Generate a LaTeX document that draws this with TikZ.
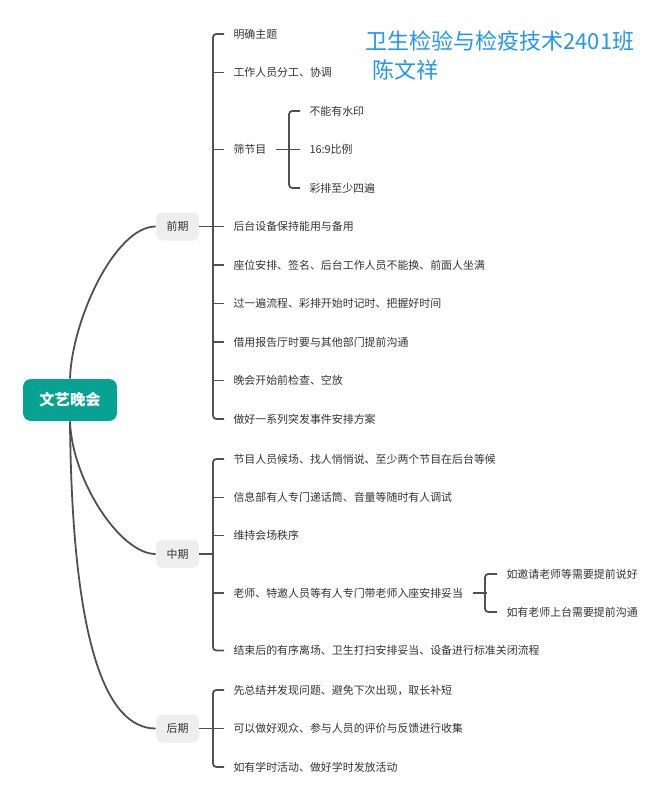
\documentclass[tikz,border=0pt]{standalone}
\usepackage{fontspec}
\newfontfamily\cjk{Noto Sans CJK SC}
\definecolor{linegray}{RGB}{80,80,80}
\definecolor{textgray}{RGB}{51,51,51}
\definecolor{boxgray}{RGB}{238,238,238}
\definecolor{rootteal}{RGB}{8,162,146}
\definecolor{titleblue}{RGB}{33,150,243}
\tikzset{every picture/.style={line width=0.75pt}}
\tikzset{
  branch/.style={draw=linegray, line width=1.35pt},
  topic/.style={anchor=west, inner xsep=6.75pt, inner ysep=2pt, text=textgray, font=\cjk\fontsize{8.2}{10}\selectfont},
  phase/.style={fill=boxgray, rounded corners=4.5pt, minimum width=32pt, minimum height=21pt, inner sep=0pt, text=textgray, font=\cjk\fontsize{8.2}{10}\selectfont},
  rootbox/.style={fill=rootteal, rounded corners=6pt, minimum width=70.5pt, minimum height=31.5pt, inner sep=0pt, text=white, font=\cjk\bfseries\fontsize{11.5}{13}\selectfont},
  titletext/.style={anchor=west, inner sep=0pt, text=titleblue, font=\cjk\fontsize{16.5}{19}\selectfont},
}
\begin{document}
\begin{tikzpicture}[x=0.75pt,y=0.75pt,yscale=-1,xscale=1]
	\useasboundingbox (0,0) rectangle (669,800);

	% Text Node
	\node [rootbox] (root) at (70,400) {文艺晚会};
	% Text Node
	\node [phase] (pre) at (177.5,226.5) {前期};
	% Text Node
	\node [phase] (mid) at (177.5,554) {中期};
	% Text Node
	\node [phase] (post) at (177.5,728.5) {后期};

	% Text Node
	\node [titletext] (title1) at (365,41) {卫生检验与检疫技术2401班};
	% Text Node
	\node [titletext] (title2) at (372,70) {陈文祥};

	% Text Node
	\node [topic] (pre1) at (224,34) {明确主题};
	\node [topic] (pre2) at (224,72.5) {工作人员分工、协调};
	\node [topic] (pre3) at (224,149.5) {筛节目};
	\node [topic] (pre4) at (224,226.5) {后台设备保持能用与备用};
	\node [topic] (pre5) at (224,265) {座位安排、签名、后台工作人员不能换、前面人坐满};
	\node [topic] (pre6) at (224,303.5) {过一遍流程、彩排开始时记时、把握好时间};
	\node [topic] (pre7) at (224,342) {借用报告厅时要与其他部门提前沟通};
	\node [topic] (pre8) at (224,380.5) {晚会开始前检查、空放};
	\node [topic] (pre9) at (224,419) {做好一系列突发事件安排方案};
	% Text Node
	\node [topic] (sift1) at (300,111) {不能有水印};
	\node [topic] (sift2) at (300,149.5) {16:9比例};
	\node [topic] (sift3) at (300,188) {彩排至少四遍};
	% Text Node
	\node [topic] (mid1) at (224,459) {节目人员候场、找人悄悄说、至少两个节目在后台等候};
	\node [topic] (mid2) at (224,497.5) {信息部有人专门递话筒、音量等随时有人调试};
	\node [topic] (mid3) at (224,535.5) {维持会场秩序};
	\node [topic] (mid4) at (224,593) {老师、特邀人员等有人专门带老师入座安排妥当};
	\node [topic] (mid5) at (224,650.5) {结束后的有序离场、卫生打扫安排妥当、设备进行标准关闭流程};
	% Text Node
	\node [topic] (teach1) at (497,574) {如邀请老师等需要提前说好};
	\node [topic] (teach2) at (497,612) {如有老师上台需要提前沟通};
	% Text Node
	\node [topic] (post1) at (224,690) {先总结并发现问题、避免下次出现，取长补短};
	\node [topic] (post2) at (224,728.5) {可以做好观众、参与人员的评价与反馈进行收集};
	\node [topic] (post3) at (224,767) {如有学时活动、做好学时发放活动};

	%Curve Lines
	\draw [branch] (root.north) .. controls (72,320) and (115,226.5) .. (pre.west) ;
	\draw [branch] (root.south) .. controls (72,480) and (120,554) .. (mid.west) ;
	\draw [branch] (root.south) .. controls (72,640) and (105,728.5) .. (post.west) ;

	%Brackets
	\draw [branch] (pre.east) -- (pre4.west) ;
	\draw [branch, rounded corners=2.5pt] (pre1.west) -- ++(-11,0) |- (pre9.west) ;
	\foreach \n in {pre2,pre3,pre5,pre6,pre7,pre8}
		\draw [branch] (\n.west) -- ++(-11,0) ;
	\draw [branch] (pre3.east) -- (sift2.west) ;
	\draw [branch, rounded corners=2.5pt] (sift1.west) -- ++(-11,0) |- (sift3.west) ;

	\draw [branch] (mid.east) -- ++(14,0) ;
	\draw [branch, rounded corners=2.5pt] (mid1.west) -- ++(-11,0) |- (mid5.west) ;
	\foreach \n in {mid2,mid3,mid4}
		\draw [branch] (\n.west) -- ++(-11,0) ;
	\draw [branch] (mid4.east) -- ++(14,0) ;
	\draw [branch, rounded corners=2.5pt] (teach1.west) -- ++(-12,0) |- (teach2.west) ;

	\draw [branch] (post.east) -- (post2.west) ;
	\draw [branch, rounded corners=2.5pt] (post1.west) -- ++(-11,0) |- (post3.west) ;

\end{tikzpicture}
\end{document}
